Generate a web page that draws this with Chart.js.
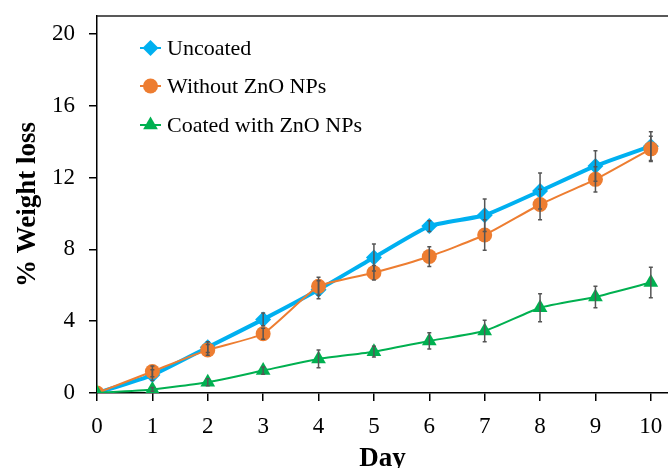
<!DOCTYPE html>
<html>
<head>
<meta charset="utf-8">
<script src="https://cdn.jsdelivr.net/npm/chart.js@4/dist/chart.umd.min.js"></script>
<style>
  body { margin: 0; background: #fff; }
</style>
</head>
<body>
<canvas id="chart" width="668" height="468"></canvas>
<script>
// data
const days = [0, 1, 2, 3, 4, 5, 6, 7, 8, 9, 10];
const uncoated = [0, 1.0, 2.55, 4.1, 5.75, 7.55, 9.3, 9.9, 11.25, 12.65, 13.75];
const withoutZnO = [0, 1.2, 2.4, 3.3, 5.95, 6.7, 7.6, 8.8, 10.5, 11.9, 13.6];
const coatedZnO = [0, 0.2, 0.6, 1.25, 1.9, 2.3, 2.9, 3.45, 4.75, 5.35, 6.15];
const uncoatedErr = [0, 0.3, 0.3, 0.35, 0.5, 0.75, 0.3, 0.9, 1.0, 0.85, 0.8];
const withoutErr = [0, 0.3, 0.3, 0.3, 0.5, 0.4, 0.55, 0.85, 0.85, 0.7, 0.7];
const coatedErr = [0, 0.1, 0.2, 0.2, 0.5, 0.3, 0.45, 0.6, 0.78, 0.6, 0.85];
const yTicks = [0, 4, 8, 12, 16, 20];

const serif = "'Liberation Serif', 'Times New Roman', serif";

function pts(vals) {
  return days.map((d, i) => ({ x: d, y: vals[i] }));
}

// error bars, top border and legend drawn by hand
const extras = {
  id: 'extras',
  afterDatasetsDraw(chart) {
    const ctx = chart.ctx;
    const xs = chart.scales.x, ys = chart.scales.y;
    const a = chart.chartArea;
    ctx.save();
    // top frame line
    ctx.strokeStyle = '#222';
    ctx.lineWidth = 1.5;
    ctx.beginPath();
    ctx.moveTo(a.left, a.top);
    ctx.lineTo(a.right, a.top);
    ctx.stroke();

    // error bars
    ctx.strokeStyle = '#555';
    ctx.lineWidth = 1.5;
    chart.data.datasets.forEach(ds => {
      ds.err.forEach((e, i) => {
        if (!e) return;
        const px = xs.getPixelForValue(days[i]);
        const top = ys.getPixelForValue(ds.vals[i] + e);
        const bot = ys.getPixelForValue(ds.vals[i] - e);
        ctx.beginPath();
        ctx.moveTo(px, top); ctx.lineTo(px, bot);
        ctx.moveTo(px - 2, top); ctx.lineTo(px + 2, top);
        ctx.moveTo(px - 2, bot); ctx.lineTo(px + 2, bot);
        ctx.stroke();
      });
    });

    // legend
    const rows = [48, 86, 125];
    ctx.font = '22px ' + serif;
    ctx.textBaseline = 'middle';
    ctx.textAlign = 'left';
    chart.data.datasets.forEach((ds, i) => {
      const y = rows[i];
      ctx.strokeStyle = ds.borderColor;
      ctx.lineWidth = 2;
      ctx.beginPath();
      ctx.moveTo(140, y); ctx.lineTo(161, y);
      ctx.stroke();
      ctx.fillStyle = ds.pointBackgroundColor;
      Chart.helpers.drawPoint(ctx, {
        pointStyle: ds.pointStyle, radius: ds.pointRadius, rotation: 0, borderWidth: 0
      }, 150.5, y);
      ctx.fillStyle = '#000';
      ctx.fillText(ds.label, 167, y + 1);
    });
    ctx.restore();
  }
};

new Chart(document.getElementById('chart'), {
  type: 'line',
  data: {
    datasets: [
      {
        label: 'Uncoated',
        data: pts(uncoated), vals: uncoated, err: uncoatedErr,
        borderColor: '#00B0F0', backgroundColor: '#00B0F0', pointBackgroundColor: '#00B0F0',
        borderWidth: 4, pointStyle: 'rectRot', pointRadius: 8, pointBorderWidth: 0,
        tension: 0.15, order: 3
      },
      {
        label: 'Without ZnO NPs',
        data: pts(withoutZnO), vals: withoutZnO, err: withoutErr,
        borderColor: '#ED7D31', backgroundColor: '#ED7D31', pointBackgroundColor: '#ED7D31',
        borderWidth: 2, pointStyle: 'circle', pointRadius: 7.5, pointBorderWidth: 0,
        tension: 0.15, order: 2
      },
      {
        label: 'Coated with ZnO NPs',
        data: pts(coatedZnO), vals: coatedZnO, err: coatedErr,
        borderColor: '#00B050', backgroundColor: '#00B050', pointBackgroundColor: '#00B050',
        borderWidth: 2, pointStyle: 'triangle', pointRadius: 8.5, pointBorderWidth: 0,
        tension: 0.15, order: 1
      }
    ]
  },
  options: {
    responsive: false,
    animation: false,
    layout: { autoPadding: false, padding: { top: 16, right: 0, left: 0, bottom: 0 } },
    plugins: { legend: { display: false }, tooltip: { enabled: false } },
    scales: {
      x: {
        type: 'linear',
        min: 0,
        max: 10.31,
        afterFit: s => { s.height = 75; s.paddingRight = 0; s.paddingLeft = 0; },
        ticks: {
          stepSize: 1, includeBounds: false, padding: 12,
          color: '#000', font: { family: serif, size: 23 }
        },
        grid: { drawOnChartArea: false, drawTicks: true, tickLength: 8, color: '#000', lineWidth: 1.5 },
        border: { color: '#000', width: 1.5 },
        title: {
          display: true, text: 'Day', color: '#000',
          font: { family: serif, size: 27, weight: 'bold' },
          padding: { top: 0, bottom: -7 }
        }
      },
      y: {
        min: 0,
        max: 21,
        afterFit: s => { s.width = 97; s.paddingTop = 0; s.paddingBottom = 0; },
        afterBuildTicks: s => { s.ticks = yTicks.map(v => ({ value: v })); },
        ticks: {
          padding: 14, color: '#000', font: { family: serif, size: 23 }
        },
        grid: { drawOnChartArea: false, drawTicks: true, tickLength: 8, color: '#000', lineWidth: 1.5 },
        border: { color: '#000', width: 1.5 },
        title: {
          display: true, text: '% Weight loss', color: '#000',
          font: { family: serif, size: 27, weight: 'bold' },
          padding: { top: 12, bottom: 0 }
        }
      }
    }
  },
  plugins: [extras]
});
</script>
</body>
</html>
